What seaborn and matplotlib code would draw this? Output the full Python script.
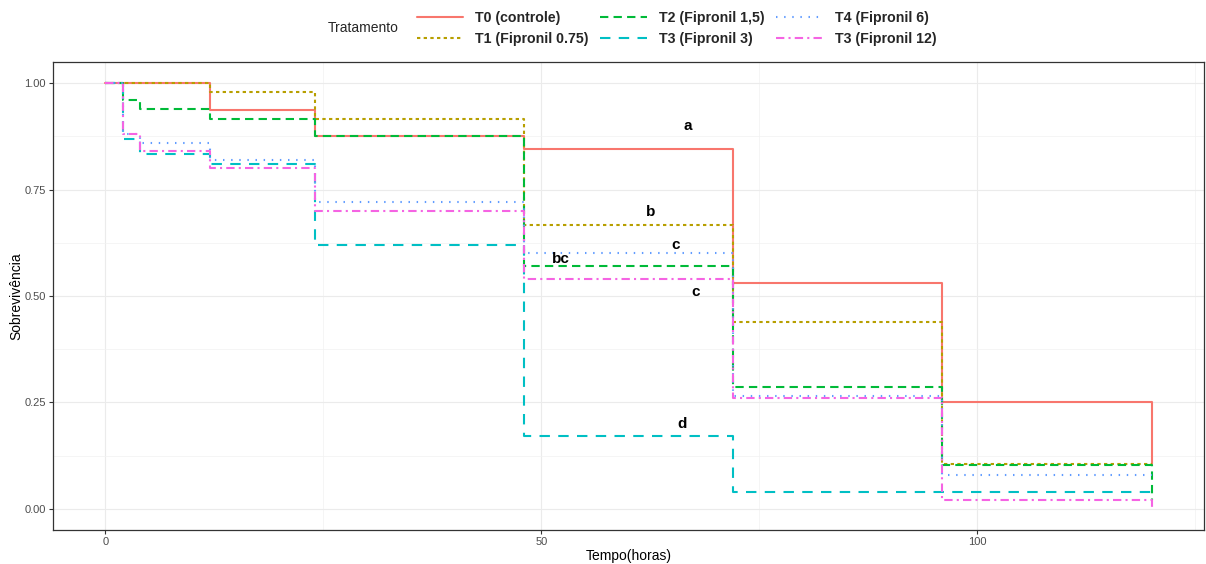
import matplotlib
matplotlib.use("Agg")
import matplotlib.pyplot as plt
from matplotlib.lines import Line2D
import seaborn as sns
import pandas as pd
import numpy as np

# ---- data ----
tempo = [0, 2, 4, 12, 24, 48, 72, 96, 120]
tratamentos = ["T0 (controle)", "T1 (Fipronil 0.75)", "T2 (Fipronil 1,5)",
               "T3 (Fipronil 3)", "T4 (Fipronil 6)", "T3 (Fipronil 12)"]
s_t0 = [1.00, 1.00, 1.00, 0.938, 0.875, 0.846, 0.531, 0.250, 0.104]
s_t1 = [1.00, 1.00, 1.00, 0.979, 0.917, 0.667, 0.438, 0.104, 0.104]
s_t2 = [1.00, 0.960, 0.940, 0.917, 0.875, 0.571, 0.286, 0.102, 0.020]
s_t3 = [1.00, 0.870, 0.833, 0.810, 0.620, 0.170, 0.040, 0.040, 0.040]
s_t4 = [1.00, 0.880, 0.860, 0.820, 0.720, 0.600, 0.265, 0.080, 0.080]
s_t12 = [1.00, 0.880, 0.840, 0.800, 0.700, 0.540, 0.260, 0.020, 0.000]
series = [s_t0, s_t1, s_t2, s_t3, s_t4, s_t12]

letras = ["a", "b", "bc", "c", "c", "d"]
letras_x = [66.8, 62.5, 52.3, 65.4, 67.7, 66.2]
letras_y = [0.900, 0.697, 0.586, 0.620, 0.510, 0.200]

cores = ["#F8766D", "#B79F00", "#00BA38", "#00BFC4", "#619CFF", "#F564E3"]
tracos = ["", (1.6, 1.6), (4, 2.5), (5, 4), (0.7, 3.2), (4, 2, 1, 2)]

df = pd.DataFrame({
    "Tempo": np.tile(tempo, len(tratamentos)),
    "Sobrevivencia": np.concatenate(series),
    "Tratamento": np.repeat(tratamentos, len(tempo)),
})

sns.set_theme(style="whitegrid")
plt.rcParams["font.family"] = ["Liberation Sans", "DejaVu Sans"]

fig = plt.figure(figsize=(12.06, 5.64), dpi=100)
ax = fig.add_axes([53 / 1206, 34 / 564, (1204 - 53) / 1206, (530 - 62) / 564])

pal = dict(zip(tratamentos, cores))
dsh = dict(zip(tratamentos, tracos))
sns.lineplot(data=df, x="Tempo", y="Sobrevivencia", hue="Tratamento",
             style="Tratamento", palette=pal, dashes=dsh, hue_order=tratamentos,
             style_order=tratamentos, drawstyle="steps-post", linewidth=1.5,
             legend=False, ax=ax, estimator=None, sort=True)

for txt, xx, yy in zip(letras, letras_x, letras_y):
    ax.text(xx, yy, txt, fontsize=11, fontweight="bold", ha="center",
            va="center", color="black")

ax.set_xlim(-6, 126)
ax.set_ylim(-0.05, 1.05)
ax.set_xticks([0, 50, 100])
ax.set_yticks([0, 0.25, 0.5, 0.75, 1.0])
ax.set_yticklabels(["0.00", "0.25", "0.50", "0.75", "1.00"])
ax.set_xticks([25, 75, 125], minor=True)
ax.set_yticks([0.125, 0.375, 0.625, 0.875], minor=True)
ax.grid(which="major", color="#EBEBEB", linewidth=0.8)
ax.grid(which="minor", color="#F2F2F2", linewidth=0.5)
ax.set_facecolor("white")
for sp in ax.spines.values():
    sp.set_visible(True)
    sp.set_color("#333333")
    sp.set_linewidth(0.9)
ax.tick_params(axis="both", which="major", labelsize=8, labelcolor="#4D4D4D",
               color="#333333", length=3, width=0.8, direction="out",
               left=True, bottom=True, pad=2)
ax.tick_params(which="minor", length=0)
ax.set_xlabel("Tempo(horas)", fontsize=10, color="black")
ax.set_ylabel("Sobrevivência", fontsize=10, color="black")
ax.xaxis.set_label_coords(0.5, -0.040)
ax.yaxis.set_label_coords(-0.026, 0.5)

handles = [Line2D([], [], color=c, linewidth=1.5,
                  linestyle="-" if d == "" else (0, d)) for c, d in zip(cores, tracos)]
fig.legend(handles, tratamentos, ncol=3, loc="center", bbox_to_anchor=(0.561, 1 - 28.5 / 564),
           frameon=False, prop={"weight": "bold", "size": 10.2}, handlelength=3.3,
           handletextpad=0.85, columnspacing=0.8, labelspacing=0.45)
fig.text(328 / 1206, 1 - 28 / 564, "Tratamento", fontsize=10, ha="left", va="center")

fig.savefig("out.png", dpi=100, facecolor="white")
